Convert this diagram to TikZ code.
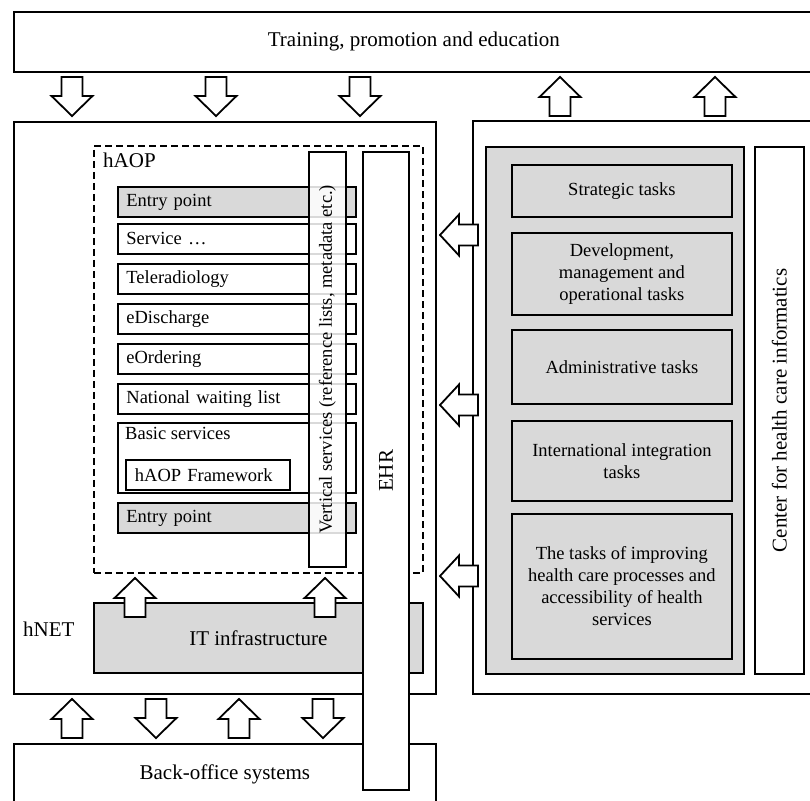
\documentclass[tikz,border=0pt]{standalone}
\usepackage{fontspec}
\setmainfont{Liberation Serif}
\usetikzlibrary{positioning}
\definecolor{panelgrey}{RGB}{217,217,217}
\newcommand{\bigfont}{\fontsize{21}{25}\selectfont}
\newcommand{\smallfont}{\fontsize{18.5}{22}\selectfont}

\begin{document}
\begin{tikzpicture}[x=1pt,y=-1pt,
	box/.style={draw,line width=1.8pt,inner sep=0pt,anchor=north west,fill=white,font=\bigfont},
	grey box/.style={box,fill=panelgrey},
	item node/.style={box,minimum width=238pt,minimum height=30pt,text width=221pt,inner xsep=8.5pt,align=left,font=\smallfont},
	task node/.style={grey box,minimum width=220pt,align=center,font=\smallfont},
	label text/.style={inner sep=0pt,font=\bigfont},
	block arrow/.style={draw,line width=1.8pt,fill=white,line join=miter},
	arrow down/.pic={\draw[block arrow] (0,0) -- (-20.5,-20) -- (-10.5,-20) -- (-10.5,-39) -- (10.5,-39) -- (10.5,-20) -- (20.5,-20) -- cycle;},
	arrow up/.pic={\draw[block arrow] (0,0) -- (-20.5,20) -- (-10.5,20) -- (-10.5,39) -- (10.5,39) -- (10.5,20) -- (20.5,20) -- cycle;},
	arrow left/.pic={\draw[block arrow] (0,0) -- (19,-20.5) -- (19,-10.5) -- (38,-10.5) -- (38,10.5) -- (19,10.5) -- (19,20.5) -- cycle;}]
	
	\useasboundingbox (0,0) rectangle (810,800);
	\clip (0,0) rectangle (810,800);
	
	% Bloques exteriores
	\node[box,minimum width=800pt,minimum height=60pt] (train) at (13,11) {Training, promotion and education};
	\node[box,minimum width=422pt,minimum height=572pt] (hnet) at (13,121) {};
	\node[box,minimum width=422pt,minimum height=60pt] (back) at (13,743) {Back-office systems};
	\node[box,minimum width=345pt,minimum height=573pt] (center) at (472,120) {};
	
	% hAOP
	\node[box,fill=none,dash pattern=on 7pt off 4pt,minimum width=329pt,minimum height=427pt] (haop) at (93,145) {};
	\node[label text,anchor=base west] at (103,167) {hAOP};
	\node[label text,anchor=base west] at (23,636) {hNET};
	
	\node[item node,fill=panelgrey] (entry1) at (117,186) {Entry point};
	\node[item node] (service) at (117,223) {Service \dots};
	\node[item node] (telerad) at (117,263) {Teleradiology};
	\node[item node] (edisch) at (117,303) {eDischarge};
	\node[item node] (eorder) at (117,343) {eOrdering};
	\node[item node] (waiting) at (117,383) {National waiting list};
	\node[box,minimum width=238pt,minimum height=70pt] (basic) at (117,422) {};
	\node[label text,font=\smallfont,anchor=north west,below right=5pt and 8pt of basic.north west] {Basic services};
	\node[item node,minimum width=164pt,text width=146pt,inner xsep=9pt] (frame) at (125,459) {hAOP Framework};
	\node[item node,fill=panelgrey] (entry2) at (117,502) {Entry point};
	
	% Servicios verticales
	\node[box,fill opacity=0.85,minimum width=37pt,minimum height=415pt] (vert) at (308,151) {};
	\node[label text,font=\smallfont,rotate=90] at (vert.center) {Vertical services (reference lists, metadata etc.)};
	
	% Infraestructura
	\node[grey box,minimum width=329pt,minimum height=70pt] (infra) at (93,602) {IT infrastructure};
	\pic at (135,578) {arrow up};
	\pic at (325,578) {arrow up};
	
	% EHR
	\node[box,minimum width=46pt,minimum height=638pt] (ehr) at (362,151) {};
	\node[label text,rotate=90] at (ehr.center) {EHR};
	
	% Tareas del centro
	\node[grey box,minimum width=258pt,minimum height=527pt] (tasks) at (485,146) {};
	\node[box,minimum width=49pt,minimum height=527pt] (chi) at (754,146) {};
	\node[label text,rotate=90] at (chi.center) {Center for health care informatics};
	
	\node[task node,minimum height=52pt] (strat) at (511,164) {Strategic tasks};
	\node[task node,minimum height=82pt] (devel) at (511,232) {Development,\\ management and\\ operational tasks};
	\node[task node,minimum height=74pt] (admin) at (511,329) {Administrative tasks};
	\node[task node,minimum height=80pt] (intl) at (511,420) {International integration\\ tasks};
	\node[task node,minimum height=145pt] (improve) at (511,513) {The tasks of improving\\ health care processes and\\ accessibility of health\\ services};
	
	% Flechas de bloque
	\foreach \x in {72,216,360} \pic at (\x,116) {arrow down};
	\foreach \x in {560,715} \pic at (\x,77) {arrow up};
	\foreach \y in {235,405,576} \pic at (440,\y) {arrow left};
	\foreach \x in {72,239} \pic at (\x,699) {arrow up};
	\foreach \x in {156,323} \pic at (\x,738) {arrow down};
\end{tikzpicture}
\end{document}
